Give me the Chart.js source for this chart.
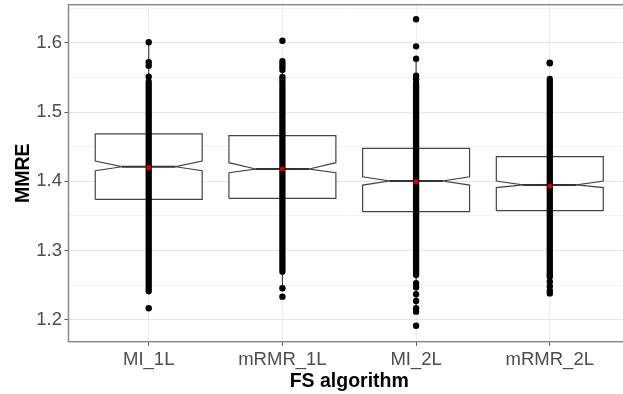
<!DOCTYPE html>
<html>
<head>
<meta charset="utf-8">
<script src="https://cdn.jsdelivr.net/npm/chart.js@4.4.1/dist/chart.umd.min.js"></script>
<style>
  html, body { margin: 0; padding: 0; background: #fff; overflow: hidden; }
  #wrap { width: 640px; height: 394px; }
</style>
</head>
<body>
<div id="wrap"><canvas id="boxChart"></canvas></div>
<script>
// categories on the x axis
const categories = ["MI_1L", "mRMR_1L", "MI_2L", "mRMR_2L"];

// box statistics
const q1 = [1.374, 1.3754, 1.3561, 1.3575];
const median = [1.421, 1.4178, 1.4004, 1.3947];
const q3 = [1.4684, 1.4659, 1.4477, 1.4356];
const notchLow = [1.4153, 1.4124, 1.3946, 1.3908];
const notchHigh = [1.4293, 1.4269, 1.4066, 1.4004];
const whiskerLow = [1.2404, 1.2454, 1.2116, 1.2405];
const whiskerHigh = [1.601, 1.574, 1.5772, 1.548];
const meanValue = [1.4197, 1.4178, 1.3994, 1.3932];

// ranges where the points are packed so tight they form a solid bar
const denseRuns = [
    [[1.241, 1.544]],
    [[1.2694, 1.536], [1.539, 1.551], [1.561, 1.5738]],
    [[1.2645, 1.542]],
    [[1.2645, 1.548]]
];

// single points that can still be told apart
const loosePoints = [
    [1.601, 1.572, 1.567, 1.551, 1.2165],
    [1.6032, 1.2454, 1.2333],
    [1.6341, 1.595, 1.5772, 1.5526, 1.5475, 1.2526, 1.2468, 1.2367, 1.227, 1.2165, 1.2116, 1.1913],
    [1.5705, 1.5715, 1.262, 1.255, 1.248, 1.242, 1.238]
];

// y axis
const yMajor = [1.2, 1.3, 1.4, 1.5, 1.6];
const yMinor = [1.25, 1.35, 1.45, 1.55, 1.65];
const yMin = 1.1682;
const yMax = 1.6552;

const boxHalf = 0.4;
const notchHalf = 0.2;

Chart.defaults.font.family = "'Liberation Sans', Arial, sans-serif";

function boxOutline(i) {
    return [
        { x: i - boxHalf, y: q1[i] },
        { x: i - boxHalf, y: notchLow[i] },
        { x: i - notchHalf, y: median[i] },
        { x: i - boxHalf, y: notchHigh[i] },
        { x: i - boxHalf, y: q3[i] },
        { x: i + boxHalf, y: q3[i] },
        { x: i + boxHalf, y: notchHigh[i] },
        { x: i + notchHalf, y: median[i] },
        { x: i + boxHalf, y: notchLow[i] },
        { x: i + boxHalf, y: q1[i] },
        { x: i - boxHalf, y: q1[i] }
    ];
}

let datasets = [];

// notched boxes
categories.forEach(function (c, i) {
    datasets.push({
        type: "line",
        data: boxOutline(i),
        borderColor: "#444444",
        borderWidth: 1.2,
        backgroundColor: "#ffffff",
        fill: "shape",
        pointRadius: 0,
        tension: 0,
        order: 6
    });
});

// whiskers
let whiskerData = [];
categories.forEach(function (c, i) {
    whiskerData.push({ x: i, y: q3[i] }, { x: i, y: whiskerHigh[i] }, { x: i, y: null });
    whiskerData.push({ x: i, y: q1[i] }, { x: i, y: whiskerLow[i] }, { x: i, y: null });
});
datasets.push({
    type: "line",
    data: whiskerData,
    borderColor: "#444444",
    borderWidth: 1.2,
    pointRadius: 0,
    spanGaps: false,
    order: 5
});

// median lines inside the notch
let medianData = [];
categories.forEach(function (c, i) {
    medianData.push({ x: i - notchHalf, y: median[i] }, { x: i + notchHalf, y: median[i] }, { x: i, y: null });
});
datasets.push({
    type: "line",
    data: medianData,
    borderColor: "#333333",
    borderWidth: 2,
    pointRadius: 0,
    spanGaps: false,
    order: 4
});

// packed points drawn as thick round-capped strokes
let denseData = [];
denseRuns.forEach(function (runs, i) {
    runs.forEach(function (r) {
        denseData.push({ x: i, y: r[0] }, { x: i, y: r[1] }, { x: i, y: null });
    });
});
datasets.push({
    type: "line",
    data: denseData,
    borderColor: "#000000",
    borderWidth: 6.3,
    borderCapStyle: "round",
    pointRadius: 0,
    spanGaps: false,
    order: 3
});

// loose points
let looseData = [];
loosePoints.forEach(function (pts, i) {
    pts.forEach(function (v) { looseData.push({ x: i, y: v }); });
});
datasets.push({
    type: "scatter",
    data: looseData,
    backgroundColor: "#000000",
    borderWidth: 0,
    pointRadius: 3.2,
    order: 2
});

// red mean markers
datasets.push({
    type: "scatter",
    data: meanValue.map(function (v, i) { return { x: i, y: v }; }),
    backgroundColor: "#c00000",
    borderWidth: 0,
    pointRadius: 2.6,
    order: 1
});

// ggplot style panel border
const panelBorder = {
    id: "panelBorder",
    afterDatasetsDraw(chart) {
        const a = chart.chartArea;
        const ctx = chart.ctx;
        ctx.save();
        ctx.strokeStyle = "#8a8a8a";
        ctx.lineWidth = 1.5;
        ctx.strokeRect(a.left, a.top, a.right - a.left, a.bottom - a.top);
        ctx.restore();
    }
};

function isMajor(v) {
    return yMajor.includes(v);
}

new Chart(document.getElementById("boxChart").getContext("2d"), {
    type: "scatter",
    data: { datasets: datasets },
    options: {
        responsive: true,
        maintainAspectRatio: false,
        animation: false,
        events: [],
        layout: { padding: { top: 4.7, right: 10, left: 0, bottom: 0 } },
        plugins: {
            legend: { display: false },
            tooltip: { enabled: false }
        },
        scales: {
            x: {
                type: "linear",
                min: -0.6,
                max: 3.6,
                afterBuildTicks: function (s) {
                    s.ticks = categories.map(function (c, i) { return { value: i }; });
                },
                afterFit: function (s) {
                    s.height = 52.3;
                    s.paddingLeft = 0;
                    s.paddingRight = 0;
                },
                ticks: {
                    callback: function (v) { return categories[v]; },
                    autoSkip: false,
                    maxRotation: 0,
                    color: "#4d4d4d",
                    font: { size: 18.5 },
                    padding: 3
                },
                grid: { color: "#ebebeb", lineWidth: 1, tickColor: "#555", tickLength: 4 },
                border: { display: false },
                title: {
                    display: true,
                    text: "FS algorithm",
                    color: "#000",
                    font: { size: 19.5, weight: "bold" },
                    padding: { top: 0, bottom: 1 }
                }
            },
            y: {
                min: yMin,
                max: yMax,
                afterBuildTicks: function (s) {
                    s.ticks = yMajor.concat(yMinor).sort().map(function (v) { return { value: v }; });
                },
                afterFit: function (s) {
                    s.width = 68.5;
                    s.paddingTop = 0;
                    s.paddingBottom = 0;
                },
                ticks: {
                    callback: function (v) { return isMajor(v) ? v.toFixed(1) : ""; },
                    autoSkip: false,
                    color: "#4d4d4d",
                    font: { size: 18.5 },
                    padding: 2.5
                },
                grid: {
                    color: function (ctx) { return isMajor(ctx.tick.value) ? "#e6e6e6" : "#f3f3f3"; },
                    tickColor: function (ctx) { return isMajor(ctx.tick.value) ? "#555" : "rgba(0,0,0,0)"; },
                    lineWidth: 1,
                    tickLength: 4
                },
                border: { display: false },
                title: {
                    display: true,
                    text: "MMRE",
                    color: "#000",
                    font: { size: 19.5, weight: "bold" },
                    padding: { top: 12, bottom: 0 }
                }
            }
        }
    },
    plugins: [panelBorder]
});
</script>
</body>
</html>
